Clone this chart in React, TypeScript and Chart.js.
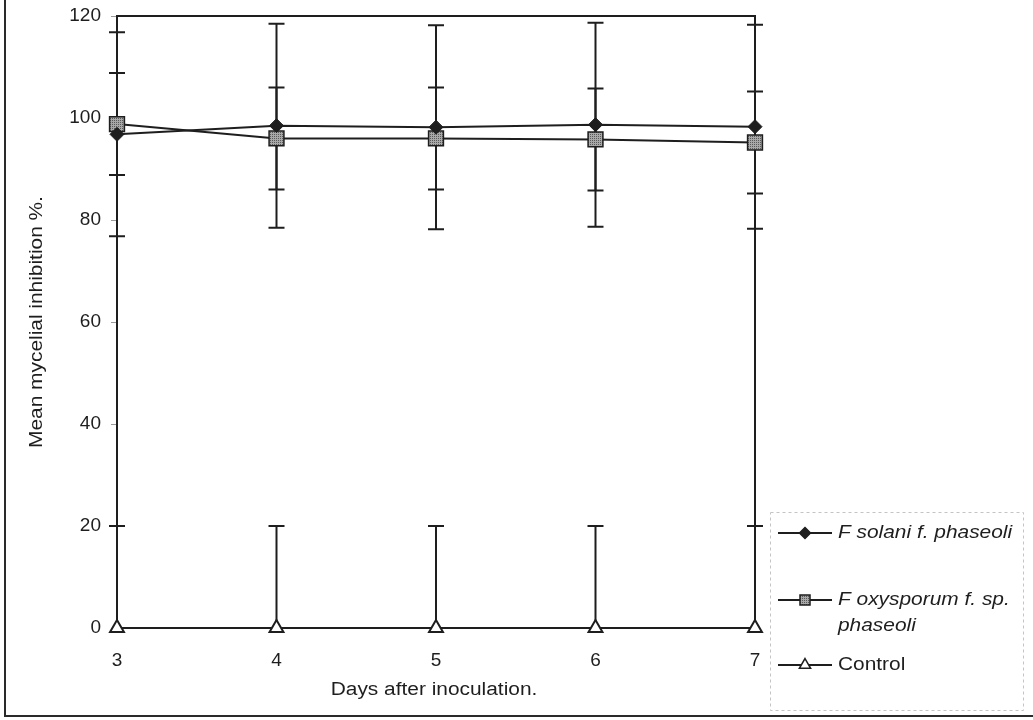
import React, { useEffect, useRef } from "react";
import { Chart, registerables } from "chart.js";

Chart.register(...registerables);

// Days after inoculation (x categories)
const days = ["3", "4", "5", "6", "7"];

// Mean mycelial inhibition (%) per treatment
const solaniMean = [96.8, 98.5, 98.2, 98.7, 98.3];
const oxysporumMean = [98.8, 96.0, 96.0, 95.8, 95.2];
const controlMean = [0, 0, 0, 0, 0];

// Error bar half-widths (%)
const solaniErr = [20, 20, 20, 20, 20];
const oxysporumErr = [10, 10, 10, 10, 10];
const controlErr = [20, 20, 20, 20, 20];

// Axis range
const yMin = 0;
const yMax = 120;
const yStep = 20;

// Labels
const seriesNames = ["F solani f. phaseoli", "F oxysporum f. sp. phaseoli", "Control"];
const legendRows = [["F solani f. phaseoli"], ["F oxysporum f. sp.", "phaseoli"], ["Control"]];
const xTitle = "Days after inoculation.";
const yTitle = "Mean mycelial inhibition %.";

const INK = "#1e1e1e";
const FONT = "'Liberation Sans', Arial, sans-serif";
const TEXT_STRETCH = 1.16;

function makeStipple(): CanvasPattern | string {
  const c = document.createElement("canvas");
  c.width = 4;
  c.height = 4;
  const g = c.getContext("2d");
  if (!g) return "#8a8a8a";
  g.fillStyle = "#a8a8a8";
  g.fillRect(0, 0, 4, 4);
  g.fillStyle = "#5a5a5a";
  g.fillRect(0, 0, 1, 1);
  g.fillRect(2, 2, 1, 1);
  g.fillRect(2, 0, 1, 1);
  g.fillRect(0, 2, 1, 1);
  const p = g.createPattern(c, "repeat");
  return p || "#8a8a8a";
}

// Text drawn slightly widened along its baseline
function wideText(ctx: CanvasRenderingContext2D, text: string, x: number, y: number, align: CanvasTextAlign, rotate = 0) {
  ctx.save();
  ctx.translate(x, y);
  if (rotate) ctx.rotate(rotate);
  ctx.scale(TEXT_STRETCH, 1);
  ctx.textAlign = align;
  ctx.textBaseline = "middle";
  ctx.fillText(text, 0, 0);
  ctx.restore();
}

const errorBars = {
  id: "errorBars",
  beforeDatasetsDraw(chart: any) {
    const { ctx, chartArea } = chart;
    const yScale = chart.scales.y;
    ctx.save();
    ctx.beginPath();
    ctx.rect(chartArea.left - 20, chartArea.top - 1, chartArea.right - chartArea.left + 40, chartArea.bottom - chartArea.top + 2);
    ctx.clip();
    ctx.strokeStyle = INK;
    ctx.lineWidth = 2;
    chart.data.datasets.forEach((ds: any, i: number) => {
      const meta = chart.getDatasetMeta(i);
      const errs: number[] = ds.errors || [];
      meta.data.forEach((pt: any, j: number) => {
        const v = ds.data[j];
        const e = errs[j];
        if (e == null) return;
        const x = pt.x;
        const yHi = yScale.getPixelForValue(v + e);
        const yLo = yScale.getPixelForValue(v - e);
        ctx.beginPath();
        ctx.moveTo(x, yHi);
        ctx.lineTo(x, yLo);
        ctx.moveTo(x - 8, yHi);
        ctx.lineTo(x + 8, yHi);
        ctx.moveTo(x - 8, yLo);
        ctx.lineTo(x + 8, yLo);
        ctx.stroke();
      });
    });
    ctx.restore();
  },
};

const decorations = {
  id: "decorations",
  beforeDatasetsDraw(chart: any) {
    const { ctx, chartArea } = chart;
    ctx.save();
    ctx.strokeStyle = INK;
    ctx.lineWidth = 2;
    ctx.strokeRect(chartArea.left, chartArea.top, chartArea.right - chartArea.left, chartArea.bottom - chartArea.top);
    ctx.restore();
  },
  afterDraw(chart: any) {
    const { ctx, chartArea } = chart;
    ctx.save();
    // outer page frame (left and bottom)
    ctx.strokeStyle = "#2a2a2a";
    ctx.lineWidth = 2;
    ctx.beginPath();
    ctx.moveTo(5, 0);
    ctx.lineTo(5, 716);
    ctx.lineTo(1033, 716);
    ctx.stroke();

    // axis titles
    ctx.fillStyle = INK;
    ctx.font = `18px ${FONT}`;
    wideText(ctx, xTitle, 434, 690, "center");
    wideText(ctx, yTitle, 37, (chartArea.top + chartArea.bottom) / 2, "center", -Math.PI / 2);

    // legend box
    ctx.strokeStyle = "#c4c4c4";
    ctx.lineWidth = 1;
    ctx.setLineDash([3, 3]);
    ctx.strokeRect(770.5, 512.5, 253, 198);
    ctx.setLineDash([]);

    const rowY = [533, 600, 665];
    chart.data.datasets.forEach((ds: any, i: number) => {
      const y = rowY[i];
      ctx.strokeStyle = INK;
      ctx.lineWidth = 2;
      ctx.beginPath();
      ctx.moveTo(778, y);
      ctx.lineTo(832, y);
      ctx.stroke();
      const style = ds.pointStyle;
      ctx.fillStyle = ds.pointBackgroundColor;
      ctx.strokeStyle = INK;
      ctx.lineWidth = 1.5;
      ctx.beginPath();
      const cx = 805;
      if (style === "rectRot") {
        const r = 5.5;
        ctx.moveTo(cx, y - r);
        ctx.lineTo(cx + r, y);
        ctx.lineTo(cx, y + r);
        ctx.lineTo(cx - r, y);
        ctx.closePath();
      } else if (style === "rect") {
        const s = 5;
        ctx.rect(cx - s, y - s, 2 * s, 2 * s);
      } else {
        const r = 6.5;
        const half = (r * Math.sqrt(3)) / 2;
        ctx.moveTo(cx, y - r);
        ctx.lineTo(cx + half, y + r / 2);
        ctx.lineTo(cx - half, y + r / 2);
        ctx.closePath();
      }
      ctx.fill();
      ctx.stroke();

      ctx.fillStyle = INK;
      ctx.font = `${i < 2 ? "italic " : ""}18px ${FONT}`;
      legendRows[i].forEach((t, k) => wideText(ctx, t, 838, y + k * 26, "left"));
    });
    ctx.restore();
  },
};

export default function App() {
  const ref = useRef<HTMLCanvasElement | null>(null);

  useEffect(() => {
    document.body.style.margin = "0";
    const canvas = ref.current;
    if (!canvas) return;
    const stipple = makeStipple();
    const chart = new Chart(canvas, {
      type: "line",
      data: {
        labels: days,
        datasets: [
          {
            label: seriesNames[0],
            data: solaniMean,
            errors: solaniErr,
            borderColor: INK,
            borderWidth: 2,
            pointStyle: "rectRot",
            pointRadius: 7,
            pointBackgroundColor: INK,
            pointBorderColor: INK,
            pointBorderWidth: 1,
            clip: false,
          } as any,
          {
            label: seriesNames[1],
            data: oxysporumMean,
            errors: oxysporumErr,
            borderColor: INK,
            borderWidth: 2,
            pointStyle: "rect",
            pointRadius: 10.5,
            pointBackgroundColor: stipple,
            pointBorderColor: INK,
            pointBorderWidth: 1.5,
            clip: false,
          } as any,
          {
            label: seriesNames[2],
            data: controlMean,
            errors: controlErr,
            borderColor: INK,
            borderWidth: 2,
            pointStyle: "triangle",
            pointRadius: 8,
            pointBackgroundColor: "#ffffff",
            pointBorderColor: INK,
            pointBorderWidth: 2,
            clip: false,
          } as any,
        ],
      },
      options: {
        animation: false,
        responsive: true,
        maintainAspectRatio: false,
        layout: { padding: { top: 16, right: 278, left: 0, bottom: 0 } },
        plugins: {
          legend: { display: false },
          tooltip: { enabled: false },
        },
        scales: {
          x: {
            type: "category",
            offset: false,
            grid: { display: false, drawTicks: false },
            border: { display: false },
            ticks: {
              padding: 21,
              color: INK,
              font: { family: FONT, size: 19 },
            },
            afterFit(scale: any) {
              scale.height = 92;
              scale.paddingLeft = 0;
              scale.paddingRight = 0;
            },
          },
          y: {
            min: yMin,
            max: yMax,
            grid: {
              display: true,
              drawOnChartArea: false,
              drawTicks: true,
              tickLength: 6,
              color: "#9a9a9a",
              lineWidth: 1,
            },
            border: { display: false },
            ticks: {
              stepSize: yStep,
              padding: 10,
              color: INK,
              font: { family: FONT, size: 19 },
            },
            afterFit(scale: any) {
              scale.width = 117;
              scale.paddingTop = 0;
              scale.paddingBottom = 0;
            },
          },
        },
      },
      plugins: [errorBars, decorations],
    });
    return () => chart.destroy();
  }, []);

  return (
    <div style={{ position: "fixed", left: 0, top: 0, width: 1033, height: 720, background: "#ffffff" }}>
      <canvas ref={ref} />
    </div>
  );
}
